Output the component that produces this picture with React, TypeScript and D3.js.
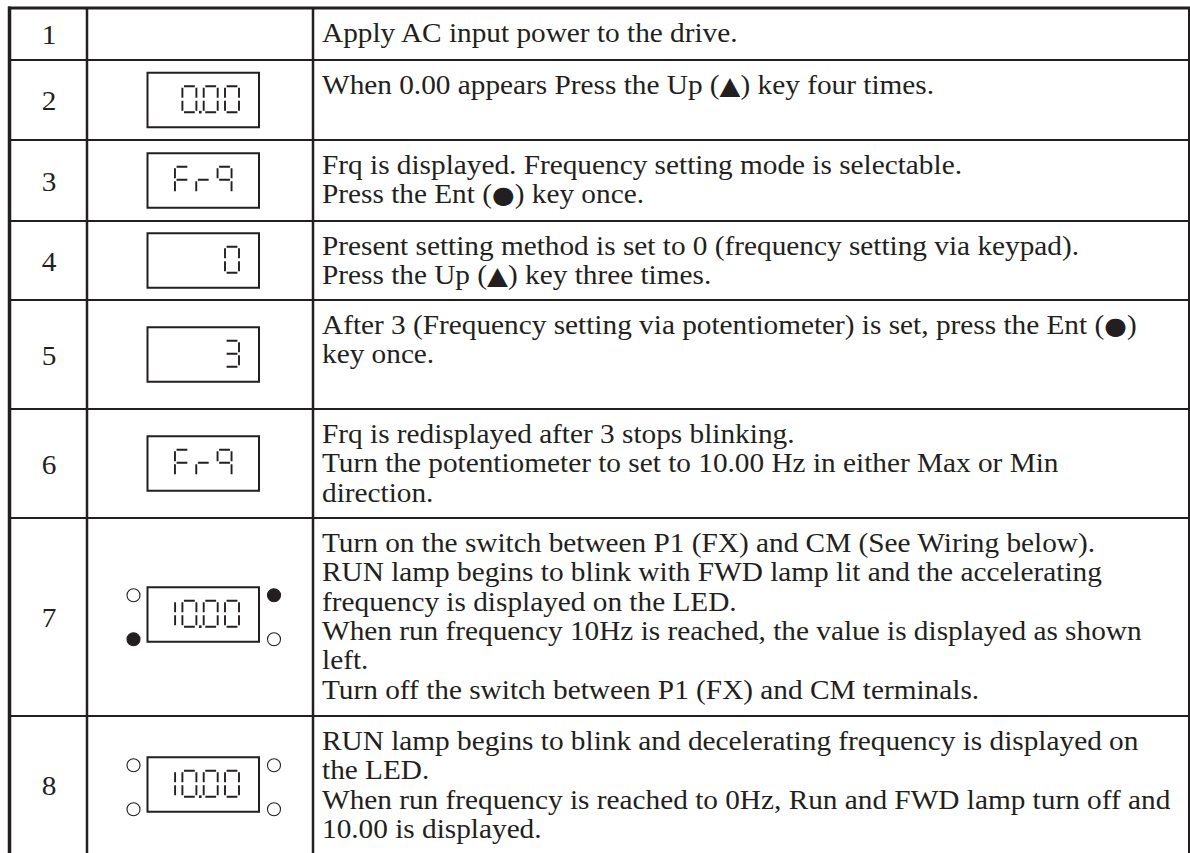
import React, { useEffect } from 'react';
import * as d3 from 'd3';

// step numbers, what the LED shows, lamp states and the step text
const steps = ['1', '2', '3', '4', '5', '6', '7', '8'];
const displays = ['', '0.00', 'Fr9', '0', '3', 'Fr9', '10.00', '10.00'];
// lamps around the LED: [top-left, top-right, bottom-left, bottom-right], 1 = lit
const lamps: (number[] | null)[] = [null, null, null, null, null, null, [0, 1, 1, 0], [0, 0, 0, 0]];
const descriptions: string[][] = [
  ['Apply AC input power to the drive.'],
  ['When 0.00 appears Press the Up (\u25B2) key four times.'],
  ['Frq is displayed. Frequency setting mode is selectable.', 'Press the Ent (\u25CF) key once.'],
  ['Present setting method is set to 0 (frequency setting via keypad).', 'Press the Up (\u25B2) key three times.'],
  ['After 3 (Frequency setting via potentiometer) is set, press the Ent (\u25CF)', 'key once.'],
  [
    'Frq is redisplayed after 3 stops blinking.',
    'Turn the potentiometer to set to 10.00 Hz in either Max or Min',
    'direction.',
  ],
  [
    'Turn on the switch between P1 (FX) and CM (See Wiring below).',
    'RUN lamp begins to blink with FWD lamp lit and the accelerating',
    'frequency is displayed on the LED.',
    'When run frequency 10Hz is reached, the value is displayed as shown',
    'left.',
    'Turn off the switch between P1 (FX) and CM terminals.',
  ],
  [
    'RUN lamp begins to blink and decelerating frequency is displayed on',
    'the LED.',
    'When run frequency is reached to 0Hz, Run and FWD lamp turn off and',
    '10.00 is displayed.',
  ],
];

const SEGMENTS: Record<string, string> = {
  '0': 'abcdef',
  '1': 'bc',
  '3': 'abcdg',
  '9': 'abcfg',
  F: 'aefg',
  r: 'eg',
};

// layout
const W = 1190;
const H = 853;
const INK = '#231f20';
const FONT = 'Liberation Serif';
const tableTop = 8;
const xLeft = 9.5;
const xRight = 1189;
const xCol1 = 87;
const xCol2 = 313;
const rowHeights = [52, 80, 81, 79, 109, 109, 198, 137];
const lineGap = 29.3;

const DIG_W = 14;
const DIG_H = 26;
const PITCH = 21.3;
const BOX_W = 111.5;
const BOX_H = 54.5;

function segmentPath(x: number, y: number, segs: string) {
  const g = 1.6;
  const w = DIG_W;
  const h = DIG_H;
  const p = d3.path();
  const seg = (x0: number, y0: number, x1: number, y1: number) => {
    p.moveTo(x0, y0);
    p.lineTo(x1, y1);
  };
  for (const s of segs) {
    if (s === 'a') seg(x + g, y, x + w - g, y);
    if (s === 'b') seg(x + w, y + g, x + w, y + h / 2 - g);
    if (s === 'c') seg(x + w, y + h / 2 + g, x + w, y + h - g);
    if (s === 'd') seg(x + g, y + h, x + w - g, y + h);
    if (s === 'e') seg(x, y + h / 2 + g, x, y + h - g);
    if (s === 'f') seg(x, y + g, x, y + h / 2 - g);
    if (s === 'g') seg(x + g, y + h / 2, x + w - g, y + h / 2);
  }
  return p.toString();
}

function Led({ text, boxX, boxY }: { text: string; boxX: number; boxY: number }) {
  // split into digit cells, a '.' sticks to the cell before it
  const cells: { ch: string; dot: boolean }[] = [];
  for (const ch of text) {
    if (ch === '.' && cells.length) cells[cells.length - 1].dot = true;
    else cells.push({ ch, dot: false });
  }
  const n = cells.length;
  const numeric = /^[0-9.]+$/.test(text);
  const span = (n - 1) * PITCH + DIG_W;
  const start = numeric ? boxX + BOX_W - 20 - span : boxX + BOX_W / 2 - span / 2;
  const x = d3.scaleLinear().domain([0, 1]).range([start, start + PITCH]);
  const top = boxY + 13.5;
  return (
    <g>
      <rect x={boxX} y={boxY} width={BOX_W} height={BOX_H} fill="#fff" stroke={INK} strokeWidth={2} />
      {cells.map((c, i) => (
        <g key={i}>
          <path d={segmentPath(x(i), top, SEGMENTS[c.ch] || '')} stroke={INK} strokeWidth={1.9} fill="none" />
          {c.dot && <rect x={x(i) + DIG_W + 2.6} y={top + DIG_H - 1.4} width={2.6} height={2.6} fill={INK} />}
        </g>
      ))}
    </g>
  );
}

// key symbols come from a font that has them
function Line({ text }: { text: string }) {
  const parts = text.split(/([\u25B2\u25CF])/).filter((t) => t !== '');
  return (
    <>
      {parts.map((t, k) =>
        t === '\u25B2' || t === '\u25CF' ? (
          <tspan key={k} style={{ fontFamily: 'DejaVu Sans', fontSize: t === '\u25B2' ? '25px' : '24px' }}>
            {t}
          </tspan>
        ) : (
          <tspan key={k}>{t}</tspan>
        )
      )}
    </>
  );
}

export default function App() {
  useEffect(() => {
    document.body.style.margin = '0';
  }, []);

  const bounds = [tableTop, ...Array.from(d3.cumsum(rowHeights), (v) => v + tableTop)];
  const boxX = 147.5;
  const textStyle = { fontFamily: FONT, fontSize: '27px' };

  return (
    <svg width={W} height={H} style={{ display: 'block', background: '#fff' }}>
      <rect width={W} height={H} fill="#fff" />
      {steps.map((s, i) => {
        const y0 = bounds[i];
        const y1 = bounds[i + 1];
        const cy = (y0 + y1) / 2;
        const boxY = cy - BOX_H / 2 - (i === 6 ? 2.5 : 0);
        const lamp = lamps[i];
        const lampX = [boxX - 14, boxX + BOX_W + 15];
        const lampY = [boxY + 8, boxY + BOX_H - 2.5];
        return (
          <g key={s}>
            <text transform={`translate(49,${cy + 10}) scale(1.085,1)`} textAnchor="middle" style={textStyle} fill={INK}>
              {s}
            </text>
            {displays[i] && <Led text={displays[i]} boxX={boxX} boxY={boxY} />}
            {lamp &&
              lamp.map((on, k) => (
                <circle
                  key={k}
                  cx={lampX[k % 2]}
                  cy={lampY[Math.floor(k / 2)]}
                  r={6.5}
                  fill={on ? INK : '#fff'}
                  stroke={INK}
                  strokeWidth={1.1}
                />
              ))}
            {descriptions[i].map((line, j) => (
              <text
                key={j}
                transform={`translate(322,${y0 + 34 + j * lineGap}) scale(1.085,1)`}
                style={textStyle}
                fill={INK}
              >
                <Line text={line} />
              </text>
            ))}
          </g>
        );
      })}
      {/* row rules */}
      {bounds.slice(1, -1).map((y) => (
        <line key={y} x1={xLeft} x2={xRight} y1={y} y2={y} stroke={INK} strokeWidth={2} />
      ))}
      {/* columns and frame */}
      <line x1={xCol1} x2={xCol1} y1={tableTop} y2={H} stroke={INK} strokeWidth={2.5} />
      <line x1={xCol2} x2={xCol2} y1={tableTop} y2={H} stroke={INK} strokeWidth={2.5} />
      <line x1={xRight} x2={xRight} y1={tableTop} y2={H} stroke={INK} strokeWidth={2} />
      <line x1={xLeft} x2={xLeft} y1={tableTop - 1.5} y2={H} stroke={INK} strokeWidth={3.5} />
      <line x1={xLeft - 1.5} x2={W} y1={tableTop} y2={tableTop} stroke={INK} strokeWidth={3} />
    </svg>
  );
}
